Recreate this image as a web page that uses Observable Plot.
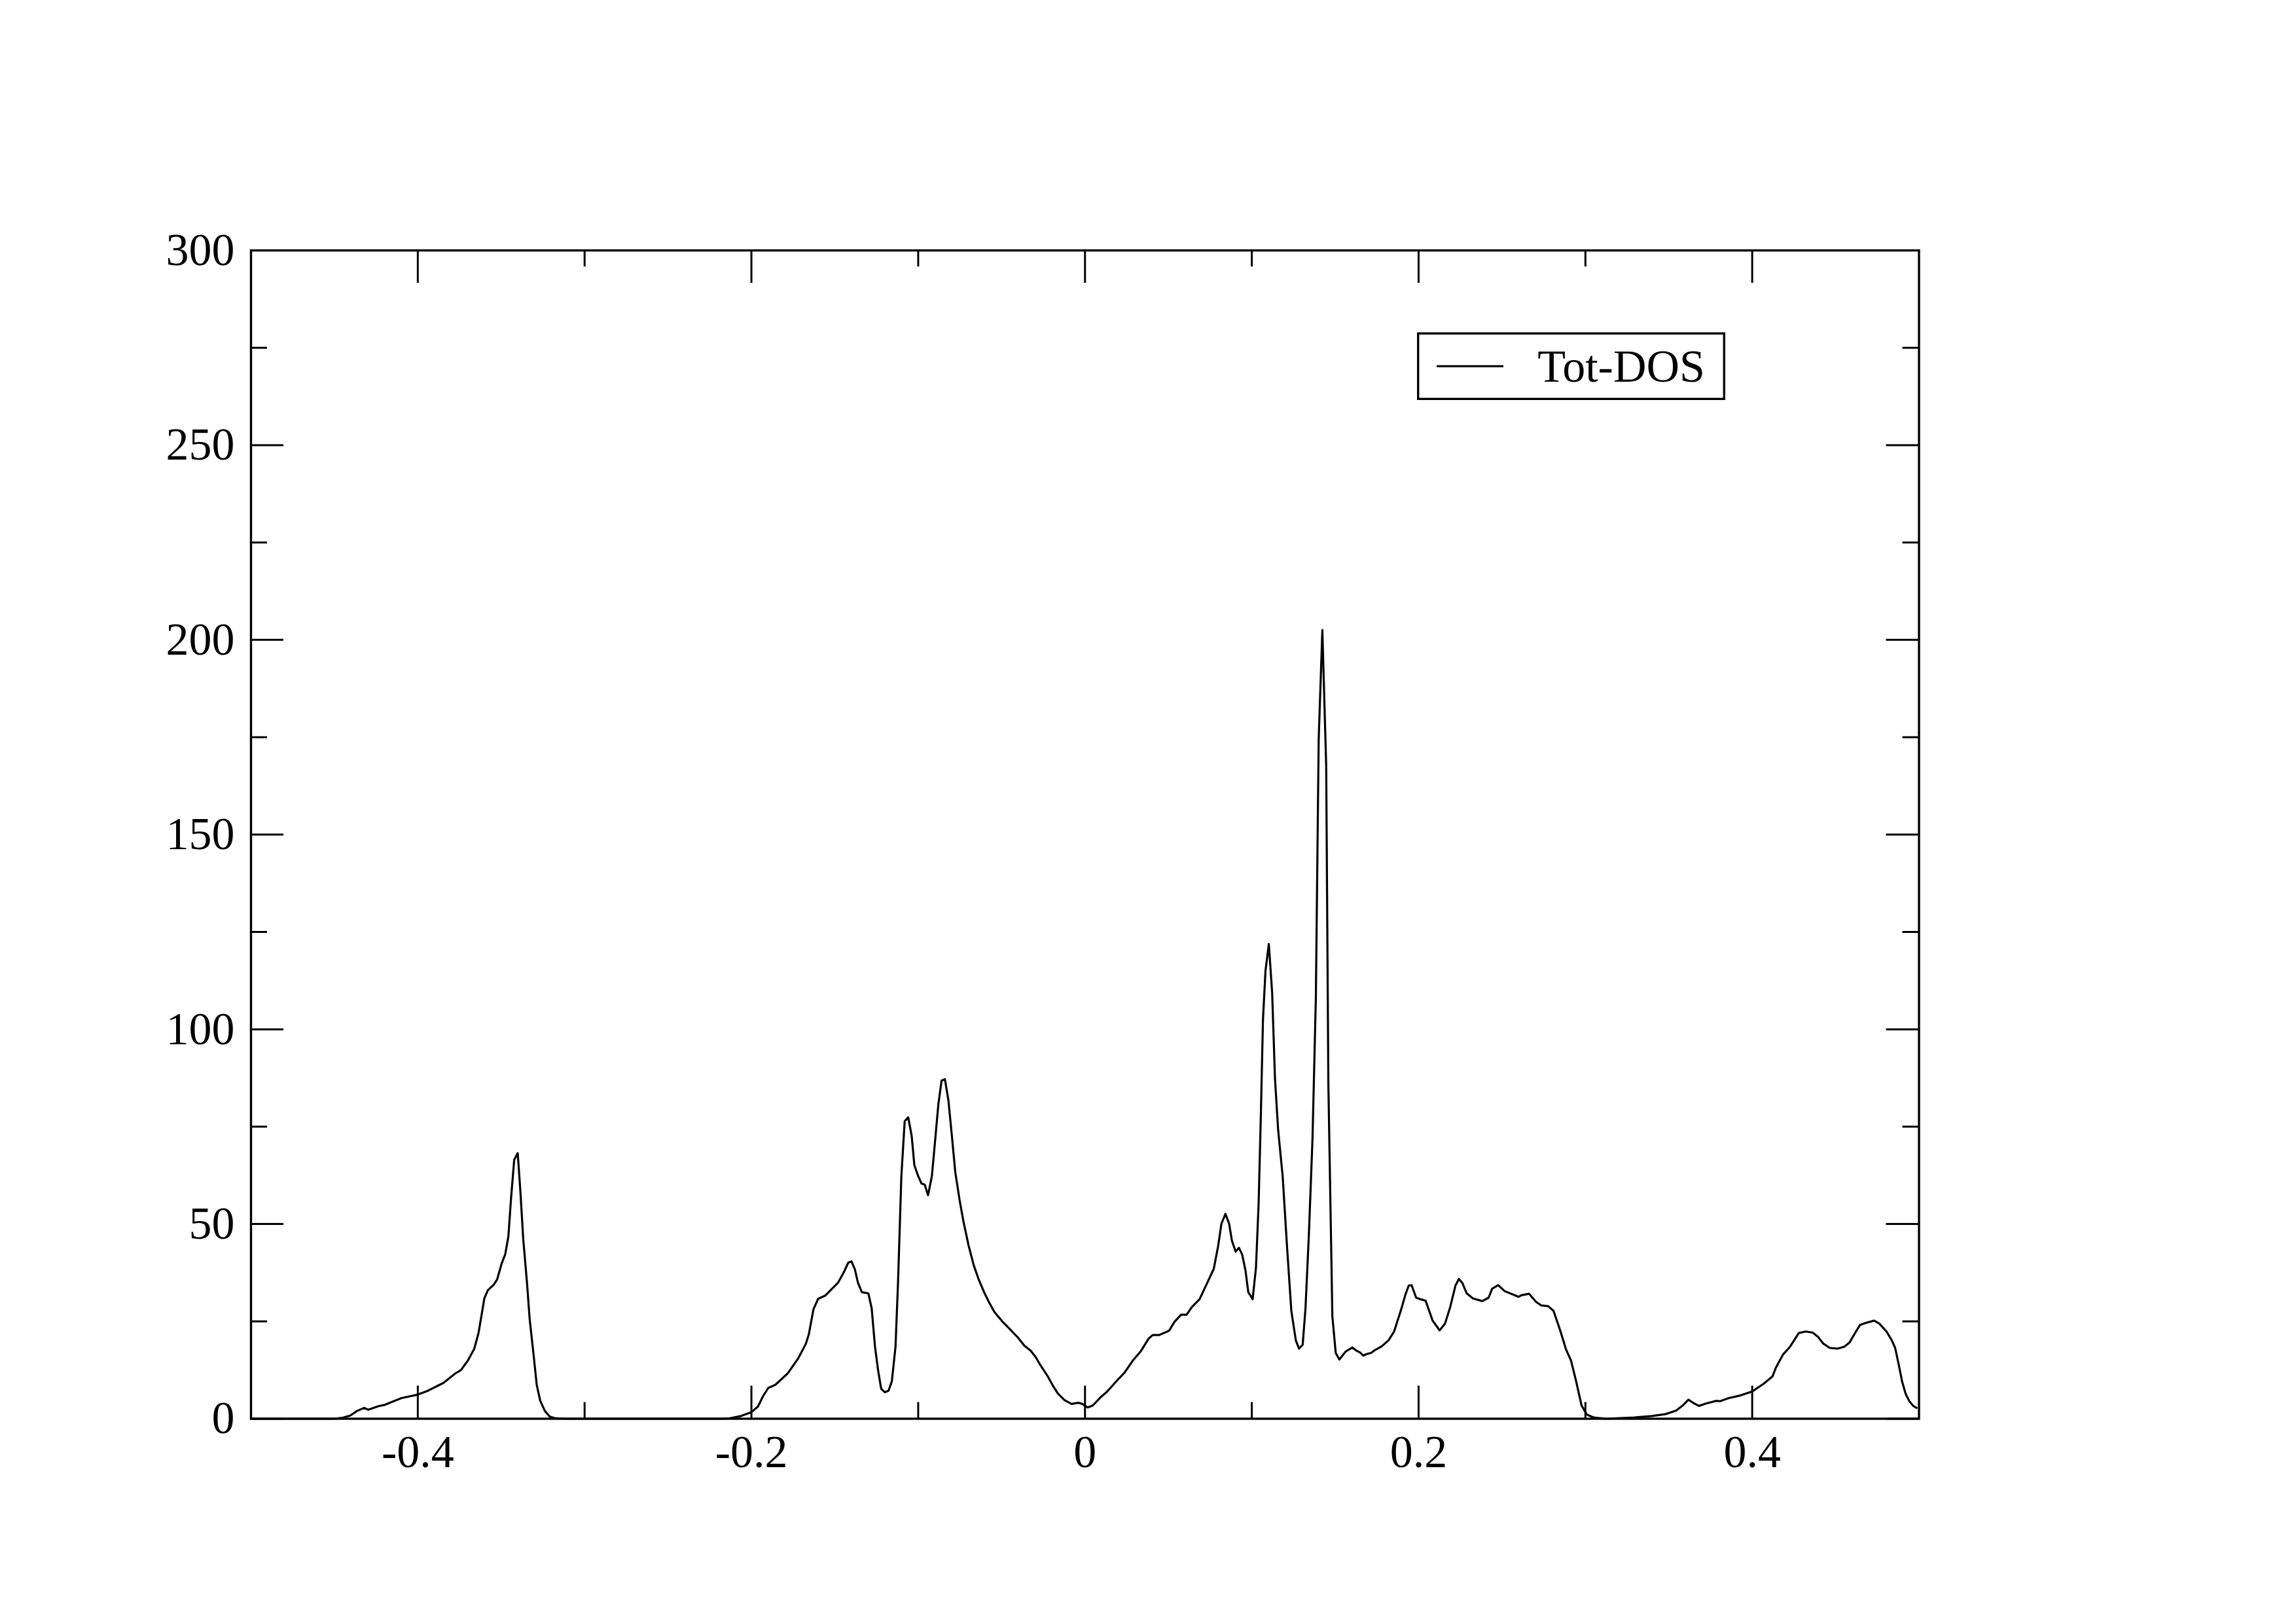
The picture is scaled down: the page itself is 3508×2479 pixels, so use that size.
<!DOCTYPE html>
<html>
<head>
<meta charset="utf-8">
<script src="https://cdn.jsdelivr.net/npm/d3@7"></script>
<script src="https://cdn.jsdelivr.net/npm/@observablehq/plot@0.6"></script>
<style>
  html, body { margin: 0; padding: 0; background: #fff; }
  #wrap { position: relative; width: 3508px; height: 2479px; background: #fff; }
  #legend { position: absolute; left: 0; top: 0; pointer-events: none; }
</style>
</head>
<body>
<div id="wrap"></div>
<script>
// ---- Data: total density of states (energy, DOS) ----
const energy = [
  -0.5, -0.45, -0.4448, -0.4406, -0.4364, -0.4322, -0.4297, -0.4238, -0.4196, -0.4098,
  -0.4, -0.3944, -0.3846, -0.3776, -0.3741, -0.3699, -0.3662, -0.3636, -0.3601, -0.358,
  -0.3545, -0.3524, -0.3497, -0.3476, -0.3457, -0.3441, -0.3422, -0.3401, -0.3385, -0.3368,
  -0.3345, -0.3329, -0.3308, -0.3287, -0.3266, -0.3238, -0.321, -0.3175, -0.31,
  -0.22, -0.214, -0.2062, -0.2, -0.1961, -0.193, -0.1899, -0.1857, -0.1783, -0.1721, -0.1674,
  -0.1656, -0.1628, -0.16, -0.1558, -0.1481, -0.1445, -0.1419, -0.14, -0.138, -0.1361,
  -0.1338, -0.1299, -0.1279, -0.1259, -0.124, -0.1222, -0.12, -0.1178, -0.1158, -0.1136,
  -0.1121, -0.1101, -0.1081, -0.106, -0.1039, -0.1023, -0.1, -0.098, -0.0961, -0.0941,
  -0.0918, -0.0899, -0.0879, -0.086, -0.084, -0.0819, -0.0798, -0.0778, -0.0752, -0.0729,
  -0.0698, -0.0667, -0.0636, -0.0605, -0.0574, -0.0543, -0.0496, -0.0457, -0.0426, -0.0403,
  -0.0364, -0.0326, -0.0295, -0.0271, -0.0225, -0.0194, -0.0163, -0.0124, -0.0081, -0.0039,
  -0.0016, 0.0016, 0.0047, 0.0093, 0.0131, 0.0196, 0.0236, 0.0288, 0.0334, 0.038,
  0.0406, 0.0445, 0.0504, 0.0537, 0.0576, 0.0609, 0.0641, 0.0687, 0.0733, 0.0772,
  0.0798, 0.0818, 0.0842, 0.0864, 0.0881, 0.0903, 0.0923, 0.0942, 0.0962, 0.0979,
  0.1005, 0.1025, 0.1041, 0.1054, 0.1067, 0.1082, 0.1102, 0.1122, 0.1139, 0.1158,
  0.1185, 0.1211, 0.1237, 0.1264, 0.1283, 0.1305, 0.1322, 0.1342, 0.1364, 0.1384,
  0.1401, 0.1423, 0.1446, 0.1459, 0.1483, 0.1503, 0.1525, 0.1564, 0.1603, 0.1623,
  0.1649, 0.1669, 0.1688, 0.1715, 0.1737, 0.1779, 0.1821, 0.1853, 0.1895, 0.1922,
  0.1941, 0.1958, 0.1985, 0.2011, 0.2042, 0.2084, 0.2126, 0.2158, 0.2189, 0.2221,
  0.2242, 0.2263, 0.2288, 0.2326, 0.2382, 0.242, 0.2441, 0.2477, 0.2515, 0.2561,
  0.2599, 0.2616, 0.2662, 0.2704, 0.2735, 0.2777, 0.2809, 0.2851, 0.2883, 0.2914,
  0.2945, 0.2977, 0.3008, 0.305, 0.3124, 0.3292, 0.3397, 0.3481, 0.3544, 0.3586,
  0.3618, 0.3649, 0.3681, 0.3723, 0.3786, 0.3807, 0.3859, 0.3922, 0.4, 0.4069,
  0.4122, 0.4143, 0.4185, 0.4227, 0.4279, 0.4321, 0.4363, 0.4395, 0.4426, 0.4464,
  0.451, 0.4552, 0.4584, 0.4615, 0.4647, 0.4679, 0.4731, 0.4763, 0.4805, 0.4836,
  0.4857, 0.4878, 0.4899, 0.492, 0.4941, 0.4965, 0.4985
];
const dos = [
  0, 0, 0.3, 0.8, 2.0, 2.8, 2.3, 3.2, 3.6, 5.3,
  6.2, 7.1, 9.2, 11.6, 12.5, 15, 17.9, 22, 30.9, 33,
  34.4, 35.8, 39.9, 42.2, 46.8, 56.6, 66.5, 68.2, 58.4, 46.2,
  34.7, 25.4, 17.3, 8.7, 4.6, 2.0, 0.6, 0.1, 0,
  0, 0.05, 0.7, 1.7, 3.1, 5.8, 7.9, 8.7, 11.6, 15.4, 19.2,
  21.6, 28.1, 30.8, 31.6, 34.9, 37.7, 40.1, 40.4, 38.4, 34.9,
  32.5, 32.2, 28.4, 18.5, 12.3, 7.7, 6.8, 7.2, 9.6, 18.5,
  34.9, 62.3, 76.4, 77.4, 72.6, 65.1, 62.3, 60.4, 60.1, 57.4,
  62.3, 71.2, 80.8, 86.8, 87.2, 81.8, 72.6, 63.4, 56.2, 50.7,
  44.5, 39.4, 35.6, 32.5, 29.8, 27.4, 25.0, 23.3, 21.9, 20.9,
  18.8, 17.5, 15.8, 14.0, 11.0, 8.6, 6.5, 4.8, 3.8, 4.1,
  3.8, 2.9, 3.4, 5.5, 6.9, 10.0, 11.8, 15.0, 17.3, 20.5,
  21.5, 21.5, 22.6, 24.9, 26.7, 26.7, 28.7, 30.7, 34.9, 38.5,
  44.3, 50.1, 52.6, 50.1, 45.7, 42.9, 43.9, 42.2, 38.1, 32.5,
  30.7, 38.8, 55.4, 77.6, 102.5, 115.0, 121.9, 109.4, 87.3, 74.1,
  62.3, 44.3, 27.7, 20.1, 18.0, 19.0, 28.4, 47.1, 72.0, 108.0,
  174.5, 202.5, 167.6, 85.9, 26.3, 16.9, 15.2, 17.3, 18.3, 17.6,
  17.0, 16.2, 16.6, 16.9, 17.6, 18.6, 20.2, 22.4, 28.0, 32.0,
  34.2, 34.3, 31.1, 30.7, 30.3, 25.2, 22.7, 24.4, 28.6, 34.2,
  35.9, 34.8, 32.2, 30.9, 30.2, 31.1, 33.4, 34.3, 32.8, 32.0,
  31.3, 31.7, 32.1, 30.0, 29.1, 28.9, 27.7, 22.4, 17.9, 14.9,
  9.5, 3.4, 1.1, 0.3, 0, 0.3, 0.7, 1.2, 2.1, 3.5,
  4.9, 4.0, 3.3, 3.9, 4.6, 4.5, 5.3, 5.9, 7.0, 9.0,
  10.9, 13.2, 16.5, 18.5, 22.0, 22.4, 22.1, 21.0, 19.3, 18.2,
  18.0, 18.5, 19.6, 21.9, 24.1, 24.6, 25.2, 24.4, 22.4, 20.2,
  18.2, 14.0, 9.5, 6.4, 4.6, 3.3, 2.8
];
const xMajorTicks = [-0.4, -0.2, 0, 0.2, 0.4];
const xMinorTicks = [-0.3, -0.1, 0.1, 0.3];
const yMajorTicks = [0, 50, 100, 150, 200, 250, 300];
const yMinorTicks = [25, 75, 125, 175, 225, 275];
const seriesName = "Tot-DOS";

// ---- Layout ----
const W = 3508, H = 2479;
const mLeft = 383, mRight = W - 2931.5, mTop = 382, mBottom = H - 2166.5;
const plotW = W - mLeft - mRight, plotH = H - mTop - mBottom;
const majorLen = 50, minorLen = 25;
const font = "'Liberation Serif', 'Times New Roman', serif";

const data = energy.map((e, i) => ({e, d: dos[i]}));

const chart = Plot.plot({
  width: W, height: H,
  marginLeft: mLeft, marginRight: mRight, marginTop: mTop, marginBottom: mBottom,
  style: {background: "#fff", fontFamily: font, fontSize: "70px", color: "#000"},
  x: {domain: [-0.5, 0.5], label: null},
  y: {domain: [0, 300], label: null},
  marks: [
    // inward ticks on all four sides
    Plot.ruleX(xMajorTicks, {x: d => d, insetTop: plotH - majorLen, stroke: "#000", strokeWidth: 3}),
    Plot.ruleX(xMajorTicks, {x: d => d, insetBottom: plotH - majorLen, stroke: "#000", strokeWidth: 3}),
    Plot.ruleX(xMinorTicks, {x: d => d, insetTop: plotH - minorLen, stroke: "#000", strokeWidth: 3}),
    Plot.ruleX(xMinorTicks, {x: d => d, insetBottom: plotH - minorLen, stroke: "#000", strokeWidth: 3}),
    Plot.ruleY(yMajorTicks, {y: d => d, insetRight: plotW - majorLen, stroke: "#000", strokeWidth: 3}),
    Plot.ruleY(yMajorTicks, {y: d => d, insetLeft: plotW - majorLen, stroke: "#000", strokeWidth: 3}),
    Plot.ruleY(yMinorTicks, {y: d => d, insetRight: plotW - minorLen, stroke: "#000", strokeWidth: 3}),
    Plot.ruleY(yMinorTicks, {y: d => d, insetLeft: plotW - minorLen, stroke: "#000", strokeWidth: 3}),
    Plot.line(data, {x: "e", y: "d", stroke: "#000", strokeWidth: 3.2, curve: "linear"}),
    Plot.frame({stroke: "#000", strokeWidth: 3.4}),
    Plot.axisX({anchor: "bottom", ticks: xMajorTicks, tickSize: 0, tickPadding: 24,
      tickFormat: d => String(d), fontSize: 70, fill: "#000", label: null}),
    Plot.axisY({anchor: "left", ticks: yMajorTicks, tickSize: 0, tickPadding: 25,
      tickFormat: d => String(d), fontSize: 70, fill: "#000", label: null})
  ]
});
const wrap = document.getElementById("wrap");
wrap.appendChild(chart);

// ---- Legend (inside the plot frame, top right) ----
const ns = "http://www.w3.org/2000/svg";
const lg = document.createElementNS(ns, "svg");
lg.setAttribute("id", "legend");
lg.setAttribute("width", W);
lg.setAttribute("height", H);
const rect = document.createElementNS(ns, "rect");
rect.setAttribute("x", 2166.7); rect.setAttribute("y", 509.3);
rect.setAttribute("width", 467.6); rect.setAttribute("height", 100);
rect.setAttribute("fill", "#fff"); rect.setAttribute("stroke", "#000"); rect.setAttribute("stroke-width", 3.4);
lg.appendChild(rect);
const ln = document.createElementNS(ns, "line");
ln.setAttribute("x1", 2195); ln.setAttribute("x2", 2297);
ln.setAttribute("y1", 559.3); ln.setAttribute("y2", 559.3);
ln.setAttribute("stroke", "#000"); ln.setAttribute("stroke-width", 3.2);
lg.appendChild(ln);
const tx = document.createElementNS(ns, "text");
tx.setAttribute("x", 2349.3); tx.setAttribute("y", 583.3);
tx.setAttribute("font-family", font); tx.setAttribute("font-size", 70);
tx.setAttribute("fill", "#000");
tx.textContent = seriesName;
lg.appendChild(tx);
wrap.appendChild(lg);
</script>
</body>
</html>
